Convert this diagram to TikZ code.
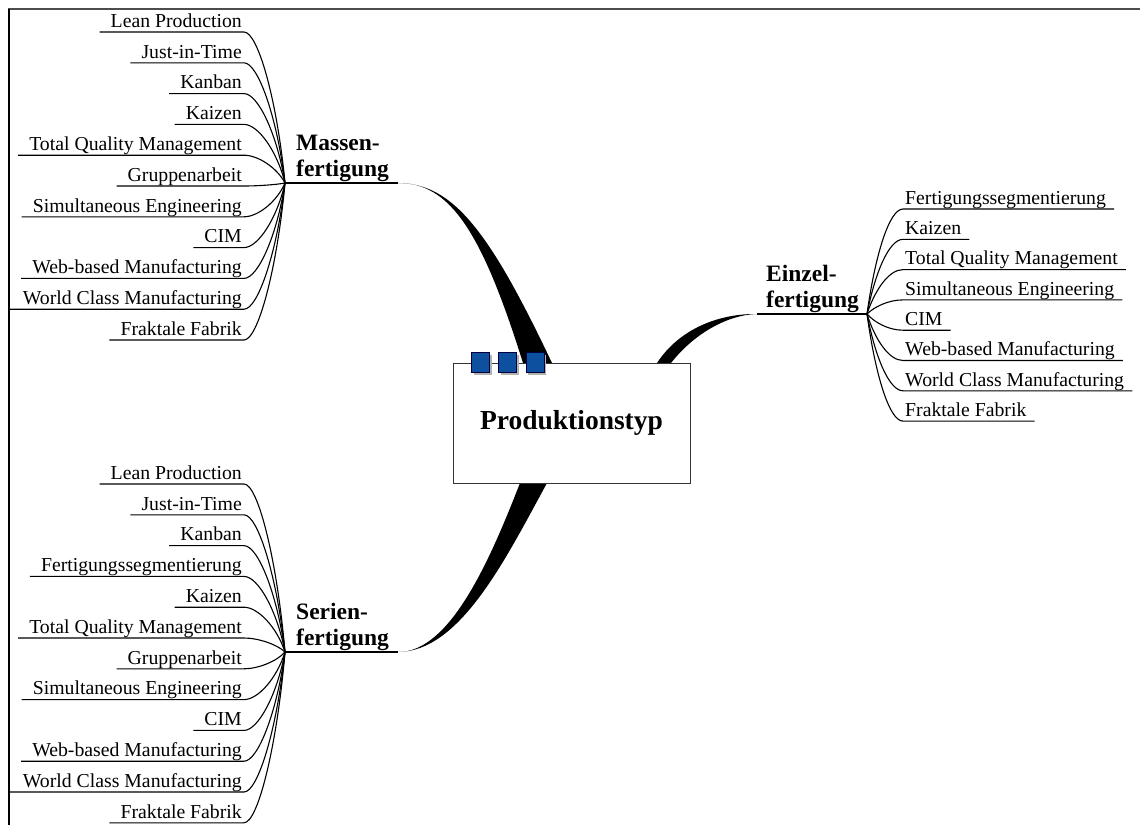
\documentclass[tikz,border=0pt]{standalone}
\usepackage{fontspec}
\setmainfont{Liberation Serif}
\usepackage{xcolor}
\usetikzlibrary{positioning,calc,shadows}

\definecolor{tabblue}{RGB}{14,80,160}

\tikzset{
    leaf/.style={font=\fontsize{19.75}{22}\selectfont, inner xsep=2pt, inner ysep=4.5pt, text depth=0pt},
    leafline/.style={line width=1.1pt},
    branch/.style={font=\fontsize{23.5}{26.5}\selectfont\bfseries, align=left, inner sep=0pt, anchor=south west},
    hubline/.style={line width=1.4pt},
    mainbox/.style={draw=black!80, line width=1pt, fill=white, minimum width=237pt, minimum height=120pt,
        font=\fontsize{27.5}{30}\selectfont\bfseries},
    tab/.style={draw=black!75!blue, fill=tabblue, minimum width=18pt, minimum height=20pt, inner sep=0pt,
        drop shadow={shadow xshift=2.5pt, shadow yshift=-2.5pt, fill=black!30, opacity=1}}
}

\begin{document}
\begin{tikzpicture}[x=1pt,y=-1pt]
    \useasboundingbox (0,0) rectangle (1140,825);
    % Rahmen
    \draw[line width=2pt, black!70] (8,9) -- (1140,9);
    \draw[line width=1.4pt] (9,9) -- (9,825);

    % Knotenpunkte der Aeste
    \coordinate (mhub) at (285,183);
    \coordinate (mroot) at (398,183);
    \coordinate (ehub) at (867,314);
    \coordinate (eroot) at (757,314);
    \coordinate (shub) at (285,652);
    \coordinate (sroot) at (398,652);

    % dicke Aeste zum Hauptknoten
    \fill (mroot) .. controls (450,182.5) and (482,232) .. (523,363) -- (552,363) .. controls (488,228) and (452,183.5) .. (mroot) -- cycle;
    \fill (eroot) .. controls (720,313.5) and (680,328) .. (657,363) -- (671,363) .. controls (692,336) and (725,315) .. (eroot) -- cycle;
    \fill (sroot) .. controls (450,652.5) and (490,560) .. (520,483) -- (547,483) .. controls (505,560) and (460,651.5) .. (sroot) -- cycle;

    % Hauptknoten
    \node[mainbox] (prod) at (571.5,423) {Produktionstyp};
    \node[tab] (t1) at (480,362) {};
    \node[tab, right=9pt of t1] (t2) {};
    \node[tab, right=9pt of t2] (t3) {};

    % Massenfertigung
    \node[branch] (mlab) at (296,182) {Massen-\\fertigung};
    \draw[hubline] (mhub) -- (mroot);
    \foreach \txt/\pad [count=\i] in {Lean Production/9, Just-in-Time/9, Kanban/9, Kaizen/9,
        Total Quality Management/9, Gruppenarbeit/9, Simultaneous Engineering/9, CIM/9,
        Web-based Manufacturing/9, World Class Manufacturing/11, Fraktale Fabrik/9} {
        \pgfmathsetmacro{\ly}{32+30.8*(\i-1)}
        \pgfmathsetmacro{\cy}{183+0.55*(\ly-183)}
        \node[leaf, anchor=south east] (m\i) at (244,\ly) {\txt};
        \draw[leafline] ([xshift=-\pad]m\i.south west) -- (m\i.south east) .. controls +(14,0) and (277,\cy) .. (mhub);
    }

    % Serienfertigung
    \node[branch] (slab) at (296,651) {Serien-\\fertigung};
    \draw[hubline] (shub) -- (sroot);
    \foreach \txt/\pad [count=\i] in {Lean Production/9, Just-in-Time/9, Kanban/9, Fertigungssegmentierung/9,
        Kaizen/9, Total Quality Management/9, Gruppenarbeit/9, Simultaneous Engineering/9, CIM/9,
        Web-based Manufacturing/9, World Class Manufacturing/11, Fraktale Fabrik/9} {
        \pgfmathsetmacro{\ly}{484+30.8*(\i-1)}
        \pgfmathsetmacro{\cy}{652+0.55*(\ly-652)}
        \node[leaf, anchor=south east] (s\i) at (244,\ly) {\txt};
        \draw[leafline] ([xshift=-\pad]s\i.south west) -- (s\i.south east) .. controls +(14,0) and (277,\cy) .. (shub);
    }

    % Einzelfertigung
    \node[branch] (elab) at (766,313) {Einzel-\\fertigung};
    \draw[hubline] (eroot) -- (ehub);
    \foreach \txt [count=\i] in {Fertigungssegmentierung, Kaizen, Total Quality Management,
        Simultaneous Engineering, CIM, Web-based Manufacturing, World Class Manufacturing, Fraktale Fabrik} {
        \pgfmathsetmacro{\ly}{209+30.3*(\i-1)}
        \pgfmathsetmacro{\cy}{314+0.55*(\ly-314)}
        \node[leaf, anchor=south west] (e\i) at (903,\ly) {\txt};
        \draw[leafline] (ehub) .. controls (875,\cy) and (889,\ly) .. (e\i.south west) -- ([xshift=6]e\i.south east);
    }
\end{tikzpicture}
\end{document}
